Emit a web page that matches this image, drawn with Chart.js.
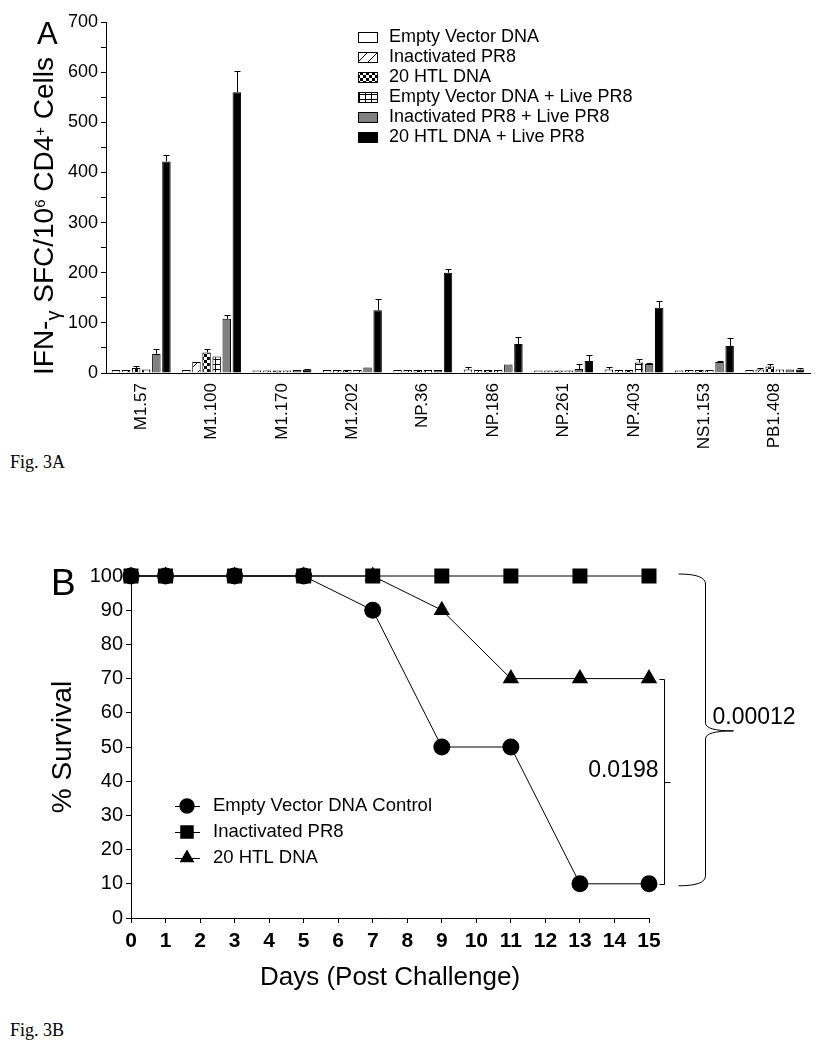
<!DOCTYPE html>
<html>
<head>
<meta charset="utf-8">
<script src="https://cdn.jsdelivr.net/npm/chart.js@4.4.1/dist/chart.umd.min.js"></script>
<style>
    html, body { margin: 0; padding: 0; background: #fff; }
    body { width: 821px; height: 1050px; position: relative; overflow: hidden; }
    .panel { position: absolute; left: 0; width: 821px; }
    #wrapA { top: 0; height: 450px; }
    #wrapB { top: 520px; height: 480px; }
    .fig { position: absolute; left: 10px; font-family: 'Liberation Serif', 'Times New Roman', serif; font-size: 18px; color: #000; }
</style>
</head>
<body>
<div class="panel" id="wrapA"><canvas id="chartA"></canvas></div>
<div class="fig" style="top:452px">Fig. 3A</div>
<div class="panel" id="wrapB"><canvas id="chartB"></canvas></div>
<div class="fig" style="top:1020px">Fig. 3B</div>

<script>
// ===== Panel A data: IFN-gamma SFC per 10^6 CD4+ cells =====
const epitopes = ['M1.57', 'M1.100', 'M1.170', 'M1.202', 'NP.36', 'NP.186', 'NP.261', 'NP.403', 'NS1.153', 'PB1.408'];
const groupNames = ['Empty Vector DNA', 'Inactivated PR8', '20 HTL DNA', 'Empty Vector DNA + Live PR8', 'Inactivated PR8 + Live PR8', '20 HTL DNA + Live PR8'];

const emptyVector     = [6, 6, 5, 6, 6, 7, 5, 7, 5, 6];
const inactivated     = [6, 22, 5, 6, 6, 6, 5, 6, 6, 7];
const htl20           = [10, 41, 5, 6, 6, 6, 5, 6, 6, 13];
const emptyVectorLive = [7, 33, 5, 6, 6, 6, 5, 21, 6, 7];
const inactivatedLive = [38, 108, 6, 11, 6, 17, 8, 18, 22, 7];
const htl20Live       = [422, 560, 7, 125, 200, 58, 24, 130, 54, 7];

// upper error (SEM)
const emptyVectorErr     = [0, 0, 0, 0, 0, 4, 0, 4, 0, 0];
const inactivatedErr     = [0, 0, 0, 0, 0, 0, 0, 0, 0, 2];
const htl20Err           = [3, 7, 0, 0, 0, 0, 0, 0, 0, 5];
const emptyVectorLiveErr = [0, 0, 0, 0, 0, 0, 0, 7, 0, 0];
const inactivatedLiveErr = [10, 8, 0, 0, 0, 0, 10, 1, 1, 0];
const htl20LiveErr       = [12, 43, 1, 23, 8, 13, 12, 13, 16, 3];

// ===== Panel B data: survival after challenge =====
const days = [0, 1, 3, 5, 7, 9, 11, 13, 15];
const survivalNames = ['Empty Vector DNA Control', 'Inactivated PR8', '20 HTL DNA'];
const emptyVectorSurvival = [100, 100, 100, 100, 90, 50, 50, 10, 10];
const inactivatedSurvival = [100, 100, 100, 100, 100, 100, 100, 100, 100];
const htlSurvival         = [100, 100, 100, 100, 100, 90, 70, 70, 70];
const pValueLabels = ['0.0198', '0.00012'];

const SANS = "'Liberation Sans', Arial, sans-serif";
Chart.defaults.color = '#000';
Chart.defaults.font.family = SANS;

/** Kichik naqsh (pattern) yaratish */
function makePattern(kind) {
    const c = document.createElement('canvas');
    const g = c.getContext('2d');
    if (kind === 'diagonal') {
        c.width = c.height = 10;
        g.fillStyle = '#fff'; g.fillRect(0, 0, 10, 10);
        g.strokeStyle = '#000'; g.lineWidth = 1;
        g.beginPath();
        g.moveTo(0, 10); g.lineTo(10, 0);
        g.moveTo(-1, 1); g.lineTo(1, -1);
        g.moveTo(9, 11); g.lineTo(11, 9);
        g.stroke();
    } else if (kind === 'checker') {
        c.width = c.height = 6;
        g.fillStyle = '#fff'; g.fillRect(0, 0, 6, 6);
        g.fillStyle = '#000';
        g.fillRect(0, 0, 3, 3); g.fillRect(3, 3, 3, 3);
    } else {
        c.width = 6; c.height = 5;
        g.fillStyle = '#fff'; g.fillRect(0, 0, 6, 5);
        g.fillStyle = '#000';
        g.fillRect(0, 4, 6, 1); g.fillRect(5, 0, 1, 5);
    }
    return g.createPattern(c, 'repeat');
}

const barSeries = [emptyVector, inactivated, htl20, emptyVectorLive, inactivatedLive, htl20Live];
const barErrors = [emptyVectorErr, inactivatedErr, htl20Err, emptyVectorLiveErr, inactivatedLiveErr, htl20LiveErr];
const barFills = ['#fff', makePattern('diagonal'), makePattern('checker'), makePattern('grid'), '#808080', '#000'];

/** Error bar: faqat yuqori qism */
const errorBars = {
    id: 'errorBars',
    afterDatasetsDraw(chart) {
        const { ctx } = chart;
        const y = chart.scales.y;
        ctx.save();
        ctx.strokeStyle = '#000';
        ctx.lineWidth = 1;
        chart.data.datasets.forEach((ds, di) => {
            if (!ds.errors) return;
            chart.getDatasetMeta(di).data.forEach((bar, i) => {
                const err = ds.errors[i];
                if (!err) return;
                const x = Math.round(bar.x) + 0.5;
                const top = Math.round(y.getPixelForValue(ds.data[i] + err)) + 0.5;
                ctx.beginPath();
                ctx.moveTo(x, bar.y);
                ctx.lineTo(x, top);
                ctx.moveTo(x - 3, top);
                ctx.lineTo(x + 3, top);
                ctx.stroke();
            });
        });
        ctx.restore();
    }
};

/** Panel harfi va maxsus matnlar */
const panelText = {
    id: 'panelText',
    afterDraw(chart, args, opts) {
        const { ctx } = chart;
        ctx.save();
        ctx.fillStyle = '#000';
        if (opts.letter) {
            ctx.font = `${opts.letter.size}px ${SANS}`;
            ctx.textBaseline = 'alphabetic';
            ctx.fillText(opts.letter.text, opts.letter.x, opts.letter.y);
        }
        if (opts.runs) {
            // aylantirilgan y-sarlavha, indeks/daraja bilan
            const area = chart.chartArea;
            ctx.translate(opts.runsX, area.bottom + 2);
            ctx.rotate(-Math.PI / 2);
            let x = 0;
            opts.runs.forEach(r => {
                const size = r.sub || r.sup ? r.size : opts.runsSize;
                ctx.font = `${size}px ${SANS}`;
                const dy = r.sub ? r.shift : (r.sup ? -r.shift : 0);
                ctx.fillText(r.t, x, dy);
                x += ctx.measureText(r.t).width;
            });
        }
        ctx.restore();
    }
};

/** Panel A legend (o'ng yuqorida) */
const barKey = {
    id: 'barKey',
    afterDraw(chart, args, opts) {
        const { ctx } = chart;
        ctx.save();
        ctx.font = `${opts.size}px ${SANS}`;
        ctx.textBaseline = 'middle';
        chart.data.datasets.forEach((ds, i) => {
            const cy = opts.y + i * opts.row;
            ctx.fillStyle = ds.backgroundColor;
            ctx.fillRect(opts.x, cy - 5, 19, 10);
            ctx.strokeStyle = '#000';
            ctx.lineWidth = 1;
            ctx.strokeRect(opts.x + 0.5, Math.round(cy - 5) + 0.5, 19, 10);
            ctx.fillStyle = '#000';
            ctx.fillText(ds.label, opts.x + 31, cy);
        });
        ctx.restore();
    }
};

new Chart(document.getElementById('chartA'), {
    type: 'bar',
    data: {
        labels: epitopes,
        datasets: groupNames.map((name, i) => ({
            label: name,
            data: barSeries[i],
            errors: barErrors[i],
            backgroundColor: barFills[i],
            borderColor: '#000',
            borderWidth: 1,
            categoryPercentage: 0.86,
            barPercentage: 0.84,
        }))
    },
    options: {
        responsive: true,
        maintainAspectRatio: false,
        animation: false,
        layout: { padding: { left: 0, top: 22, right: 11, bottom: 0 } },
        plugins: {
            legend: { display: false },
            tooltip: { enabled: false },
            barKey: { x: 358, y: 37, row: 20, size: 18 },
            panelText: {
                letter: { text: 'A', x: 37, y: 44, size: 31 },
                runsX: 53,
                runsSize: 28,
                runs: [
                    { t: 'IFN-' },
                    { t: 'γ', sub: true, size: 20, shift: 7 },
                    { t: ' SFC/10' },
                    { t: '6', sup: true, size: 15, shift: 8 },
                    { t: ' CD4' },
                    { t: '+', sup: true, size: 15, shift: 8 },
                    { t: ' Cells' },
                ]
            }
        },
        scales: {
            x: {
                grid: { display: false, drawTicks: false },
                border: { display: true, color: '#000', width: 1 },
                ticks: { font: { size: 17 }, minRotation: 90, maxRotation: 90, padding: 10, autoSkip: false },
                afterFit: s => { s.height = 77; }
            },
            y: {
                min: 0,
                max: 700,
                ticks: { stepSize: 50, font: { size: 18 }, padding: 3, callback: v => (v % 100 === 0 ? v : '') },
                grid: { drawOnChartArea: false, tickLength: 5, color: '#000' },
                border: { display: true, color: '#000', width: 1 },
                afterFit: s => { s.width = 106; }
            }
        }
    },
    plugins: [errorBars, panelText, barKey]
});

/** Panel B legend (chiziq + marker) */
const survivalKey = {
    id: 'survivalKey',
    afterDraw(chart, args, opts) {
        const { ctx, chartArea } = chart;
        ctx.save();
        ctx.font = `${opts.size}px ${SANS}`;
        ctx.textBaseline = 'middle';
        chart.data.datasets.forEach((ds, i) => {
            const cx = chartArea.left + opts.dx;
            const cy = chartArea.top + opts.dy + i * opts.row;
            ctx.strokeStyle = '#000';
            ctx.lineWidth = 1;
            ctx.beginPath();
            ctx.moveTo(cx - 12, Math.round(cy) + 0.5);
            ctx.lineTo(cx + 13, Math.round(cy) + 0.5);
            ctx.stroke();
            ctx.fillStyle = '#000';
            Chart.helpers.drawPoint(ctx, { pointStyle: ds.pointStyle, radius: ds.pointRadius * 0.9, rotation: 0, borderWidth: 0 }, cx, cy);
            ctx.fillText(ds.label, cx + 26, cy);
        });
        ctx.restore();
    }
};

/** p-qiymat qavslari */
const pBrackets = {
    id: 'pBrackets',
    afterDraw(chart) {
        const { ctx } = chart;
        const { x, y } = chart.scales;
        const last = days.length - 1;
        const xEnd = x.getPixelForValue(days[last]);
        const yTop = y.getPixelForValue(inactivatedSurvival[last]);
        const yMidVal = y.getPixelForValue(htlSurvival[last]);
        const yBot = y.getPixelForValue(emptyVectorSurvival[last]);
        ctx.save();
        ctx.strokeStyle = '#000';
        ctx.fillStyle = '#000';
        ctx.lineWidth = 1;
        ctx.font = `23px ${SANS}`;
        ctx.textBaseline = 'middle';

        // kichik qavs: 20 HTL vs Empty Vector
        const xb = Math.round(xEnd + 15) + 0.5;
        const yb1 = Math.round(yMidVal) + 0.5, yb2 = Math.round(yBot) + 0.5;
        const ybm = Math.round((yb1 + yb2) / 2) + 0.5;
        ctx.beginPath();
        ctx.moveTo(xb - 5, yb1); ctx.lineTo(xb, yb1); ctx.lineTo(xb, yb2); ctx.lineTo(xb - 5, yb2);
        ctx.moveTo(xb, ybm); ctx.lineTo(xb + 6, ybm);
        ctx.stroke();
        ctx.textAlign = 'right';
        ctx.fillText(pValueLabels[0], xb - 6, ybm - 12);

        // katta figurali qavs: Inactivated vs Empty Vector
        const xv = Math.round(xEnd + 56) + 0.5;
        const x0 = xv - 27;
        const t = yTop - 2, b = yBot + 2;
        const m = t + (b - t) * 0.5 + 1;
        ctx.beginPath();
        ctx.moveTo(x0, t);
        ctx.quadraticCurveTo(xv, t, xv, t + 10);
        ctx.lineTo(xv, m - 8);
        ctx.quadraticCurveTo(xv, m, xv + 28, m);
        ctx.moveTo(xv + 28, m);
        ctx.quadraticCurveTo(xv, m, xv, m + 8);
        ctx.lineTo(xv, b - 10);
        ctx.quadraticCurveTo(xv, b, x0, b);
        ctx.stroke();
        ctx.textAlign = 'left';
        ctx.fillText(pValueLabels[1], xv + 7, m - 13);
        ctx.restore();
    }
};

const markers = ['circle', 'rect', 'triangle'];
const markerRadius = [8.5, 10.6, 9.5];
const markerOrder = [2, 0, 1];
const survivalSeries = [emptyVectorSurvival, inactivatedSurvival, htlSurvival];

new Chart(document.getElementById('chartB'), {
    type: 'line',
    data: {
        datasets: survivalNames.map((name, i) => ({
            label: name,
            data: days.map((d, j) => ({ x: d, y: survivalSeries[i][j] })),
            borderColor: '#000',
            backgroundColor: '#000',
            borderWidth: 1,
            pointStyle: markers[i],
            pointRadius: markerRadius[i],
            pointBorderWidth: 0,
            pointBackgroundColor: '#000',
            order: markerOrder[i],
            tension: 0,
            clip: false,
        }))
    },
    options: {
        responsive: true,
        maintainAspectRatio: false,
        animation: false,
        layout: { padding: { left: 0, top: 56, right: 172, bottom: 0 } },
        plugins: {
            legend: { display: false },
            tooltip: { enabled: false },
            panelText: { letter: { text: 'B', x: 51, y: 75, size: 37 } },
            survivalKey: { dx: 56, dy: 230, row: 26, size: 18.5 },
        },
        scales: {
            x: {
                type: 'linear',
                min: 0,
                max: 15,
                ticks: { stepSize: 1, font: { size: 21, weight: 'bold' }, padding: 6 },
                grid: { drawOnChartArea: false, tickLength: 5, color: '#000' },
                border: { display: true, color: '#000', width: 1 },
                title: { display: true, text: 'Days (Post Challenge)', font: { size: 26 }, padding: { top: 0, bottom: 7 } },
                afterFit: s => { s.height = 82; }
            },
            y: {
                min: 0,
                max: 100,
                ticks: { stepSize: 10, font: { size: 20 }, padding: 3 },
                grid: { drawOnChartArea: false, tickLength: 5, color: '#000' },
                border: { display: true, color: '#000', width: 1 },
                title: { display: true, text: '% Survival', font: { size: 28 }, padding: { top: 46, bottom: 0 } },
                afterFit: s => { s.width = 131; }
            }
        }
    },
    plugins: [panelText, survivalKey, pBrackets]
});
</script>
</body>
</html>
